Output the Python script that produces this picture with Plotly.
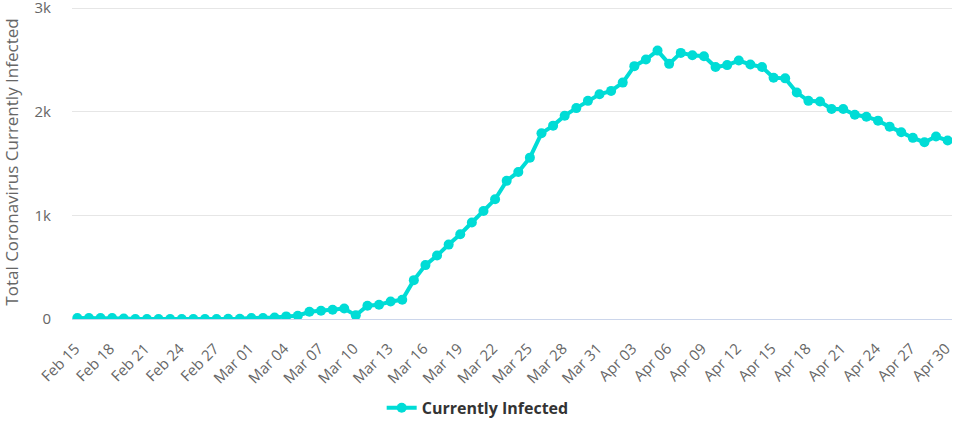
import pandas as pd
import plotly.graph_objs as go

# daily values, Feb 15 -> Apr 30 2020
dates = pd.date_range('2020-02-15', '2020-04-30', freq='D')
currently_infected = [
    10, 10, 10, 10, 5, 0, 0, 0, 0, 0,
    0, 0, 0, 3, 3, 10, 10, 15, 25, 32,
    70, 80, 89, 102, 35, 128, 137, 169, 185, 375,
    520, 612, 718, 818, 931, 1042, 1155, 1333, 1419, 1557,
    1792, 1866, 1962, 2035, 2105, 2169, 2201, 2281, 2440, 2504,
    2590, 2462, 2568, 2545, 2536, 2431, 2450, 2494, 2456, 2431,
    2328, 2322, 2185, 2105, 2099, 2026, 2026, 1971, 1952, 1914,
    1856, 1802, 1748, 1706, 1761, 1722,
]
y_ticks = [0, 1000, 2000, 3000]
y_tick_labels = ['0', '1k', '2k', '3k']

color = '#00dcd6'

fig = go.Figure()
fig.add_trace(go.Scatter(
    x=dates,
    y=currently_infected,
    name='Currently Infected',
    mode='lines+markers',
    line=dict(color=color, width=4),
    marker=dict(color=color, size=10),
))

fig.update_layout(
    width=957, height=428,
    margin=dict(l=72, r=5, t=5, b=108),
    plot_bgcolor='white',
    paper_bgcolor='white',
    font=dict(family='Open Sans, sans-serif', color='#666666'),
    showlegend=True,
    # keep the legend inside the bottom margin so it doesn't push the plot up
    legend=dict(
        orientation='h',
        x=0.461, xanchor='center',
        y=-0.333, yanchor='bottom',
        font=dict(size=16, color='#333333', family='Open Sans, sans-serif', weight='bold'),
        itemwidth=30,
    ),
)

fig.update_xaxes(
    automargin=False,
    range=['2020-02-14 13:00', '2020-04-30 09:00'],
    tick0='2020-02-15',
    dtick=3 * 86400000,
    tickformat='%b %d',
    tickangle=-45,
    tickfont=dict(size=15, color='#666666'),
    ticklabelshift=-2,
    ticklabelstandoff=14,
    ticklabeloverflow='allow',
    showgrid=False,
    showline=True,
    linecolor='#ccd6eb',
    linewidth=1,
    ticks='',
)

fig.update_yaxes(
    automargin=False,
    range=[0, 3030],
    tickvals=y_ticks,
    ticktext=y_tick_labels,
    tickfont=dict(size=15, color='#666666'),
    ticklabeloverflow='allow',
    gridcolor='#e6e6e6',
    zeroline=False,
    title=dict(text='Total Coronavirus Currently Infected', font=dict(size=17, color='#666666'), standoff=14),
    ticklabelstandoff=20,
)

# page has a default 8px body margin, drop it so the figure sits at 0,0
fig.write_html('out.html', config={'displayModeBar': False},
               post_script="document.body.style.margin='0';")
